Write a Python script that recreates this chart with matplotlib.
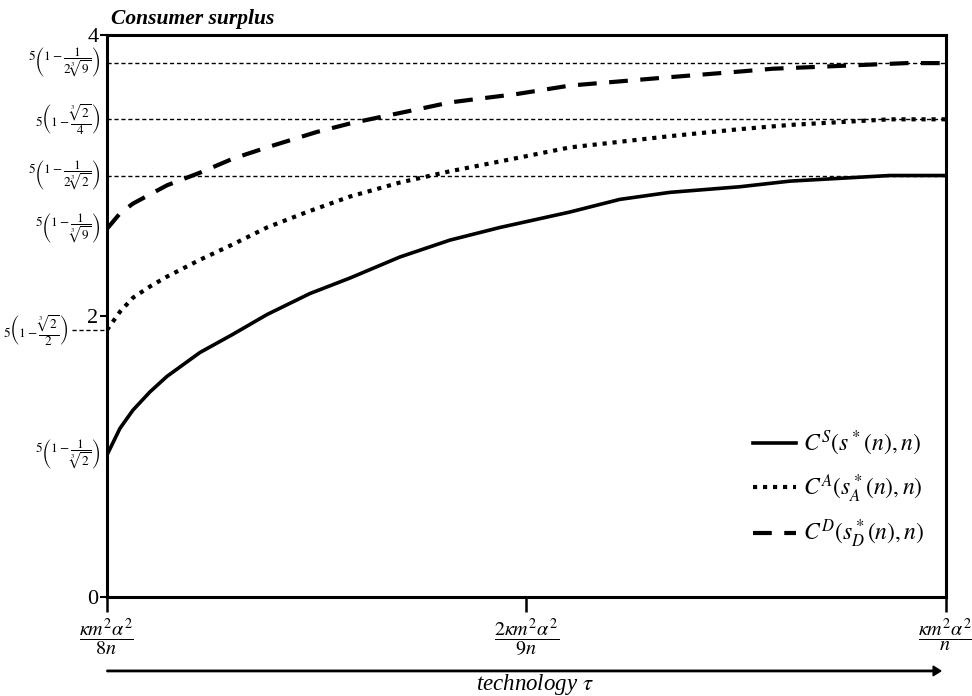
import numpy as np
import matplotlib.pyplot as plt
from matplotlib.patches import FancyArrow

plt.rcParams['mathtext.fontset'] = 'stix'
plt.rcParams['font.family'] = ['Liberation Serif', 'DejaVu Serif']

# position along the technology axis (0 = left tick, 1 = right tick)
x_s = [0, .0155, .031, .0513, .0715, .1108, .1502, .1907, .2420, .2896, .3492,
       .4088, .4684, .5518, .6114, .6710, .7545, .8141, .8737, .9333, 1.0]
cs = [1.01, 1.20, 1.33, 1.46, 1.57, 1.74, 1.87, 2.01, 2.16, 2.27, 2.42,
      2.54, 2.63, 2.74, 2.83, 2.88, 2.92, 2.96, 2.98, 3.00, 3.00]

x_a = [0, .0155, .031, .0513, .0715, .1108, .1502, .1907, .2384, .2896, .3492,
       .4088, .4684, .5518, .6114, .6710, .7545, .8141, .8737, .9333, 1.0]
ca = [1.90, 2.03, 2.13, 2.21, 2.28, 2.40, 2.51, 2.63, 2.74, 2.85, 2.95,
      3.03, 3.10, 3.20, 3.24, 3.28, 3.33, 3.36, 3.38, 3.40, 3.40]

x_d = [0, .0155, .031, .0715, .1108, .1502, .1907, .2503, .2896, .3290, .3695,
       .4088, .4482, .4887, .5518, .6114, .6710, .7545, .7938, .8343, .8737,
       .9130, .9535, 1.0]
cd = [2.62, 2.73, 2.80, 2.93, 3.02, 3.12, 3.20, 3.31, 3.37, 3.42, 3.47,
      3.52, 3.55, 3.58, 3.64, 3.67, 3.70, 3.74, 3.76, 3.77, 3.78,
      3.79, 3.80, 3.80]

# reference levels on the y axis
ref_vals = [3.80, 3.40, 3.00, 2.62, 1.90, 1.01]
ref_labels = [r'$5\left(1-\dfrac{1}{2\sqrt[3]{9}}\right)$',
              r'$5\left(1-\dfrac{\sqrt[3]{2}}{4}\right)$',
              r'$5\left(1-\dfrac{1}{2\sqrt[3]{2}}\right)$',
              r'$5\left(1-\dfrac{1}{\sqrt[3]{9}}\right)$',
              r'$5\left(1-\dfrac{\sqrt[3]{2}}{2}\right)$',
              r'$5\left(1-\dfrac{1}{\sqrt[3]{2}}\right)$']
full_lines = [3.80, 3.40, 3.00]

x_ticks = [0, 0.5, 1.0]
x_labels = [r'$\dfrac{\kappa m^2\alpha^2}{8n}$',
            r'$\dfrac{2\kappa m^2\alpha^2}{9n}$',
            r'$\dfrac{\kappa m^2\alpha^2}{n}$']

fig = plt.figure(figsize=(9.72, 6.96), dpi=100)
ax = fig.add_axes([0.110, 0.1422, 0.863, 0.8075])
ax.set_xlim(0, 1)
ax.set_ylim(0, 4)

for v in full_lines:
    ax.axhline(v, color='black', lw=1.0, ls=(0, (3, 2)), zorder=1)

ax.plot(x_s, cs, color='black', lw=2.6, label=r'$C^S(s^*(n),n)$')
ax.plot(x_a, ca, color='black', lw=3.0, ls=(0, (1, 1.4)), label=r'$C^A(s_A^*(n),n)$')
ax.plot(x_d, cd, color='black', lw=3.0, ls=(0, (4.5, 3)), label=r'$C^D(s_D^*(n),n)$')

for s in ax.spines.values():
    s.set_linewidth(2.2)

ax.set_yticks([0, 2, 4])
ax.set_yticklabels(['0', '2', '4'], fontsize=16)
ax.tick_params(axis='y', direction='out', length=5, width=1.5, pad=1)
ax.set_xticks(x_ticks)
ax.set_xticklabels(x_labels, fontsize=14.5)
ax.tick_params(axis='x', direction='out', length=11, width=1.8, pad=3)

# formula labels at the left
for v, lab in zip(ref_vals, ref_labels):
    off = -28 if v == 1.90 else -5
    ax.annotate(lab, xy=(0, v), xycoords=('axes fraction', 'data'),
                xytext=(off, 0), textcoords='offset points',
                ha='right', va='center', fontsize=9.5, annotation_clip=False)
# short dashed connector for the 5(1-cbrt2/2) level
ax.plot([-0.042, 0], [1.90, 1.90], color='black', lw=1.0, ls=(0, (3, 2)),
        clip_on=False, zorder=1)

ax.legend(loc='lower right', bbox_to_anchor=(1.0, 0.045), frameon=False,
          fontsize=17, handlelength=1.8, handletextpad=0.3, labelspacing=0.6)

fig.text(0.114, 0.972, 'Consumer surplus', fontsize=15.5, fontweight='bold',
         fontstyle='italic', ha='left', va='center')

# technology arrow
fig.patches.append(FancyArrow(
    0.110, 0.036, 0.858, 0, width=0.002, head_width=0.014, head_length=0.008,
    length_includes_head=True, color='black', transform=fig.transFigure))
fig.text(0.55, 0.017, r'technology $\tau$', fontsize=16.5, fontstyle='italic',
         ha='center', va='center')

fig.savefig('out.png', dpi=100)
